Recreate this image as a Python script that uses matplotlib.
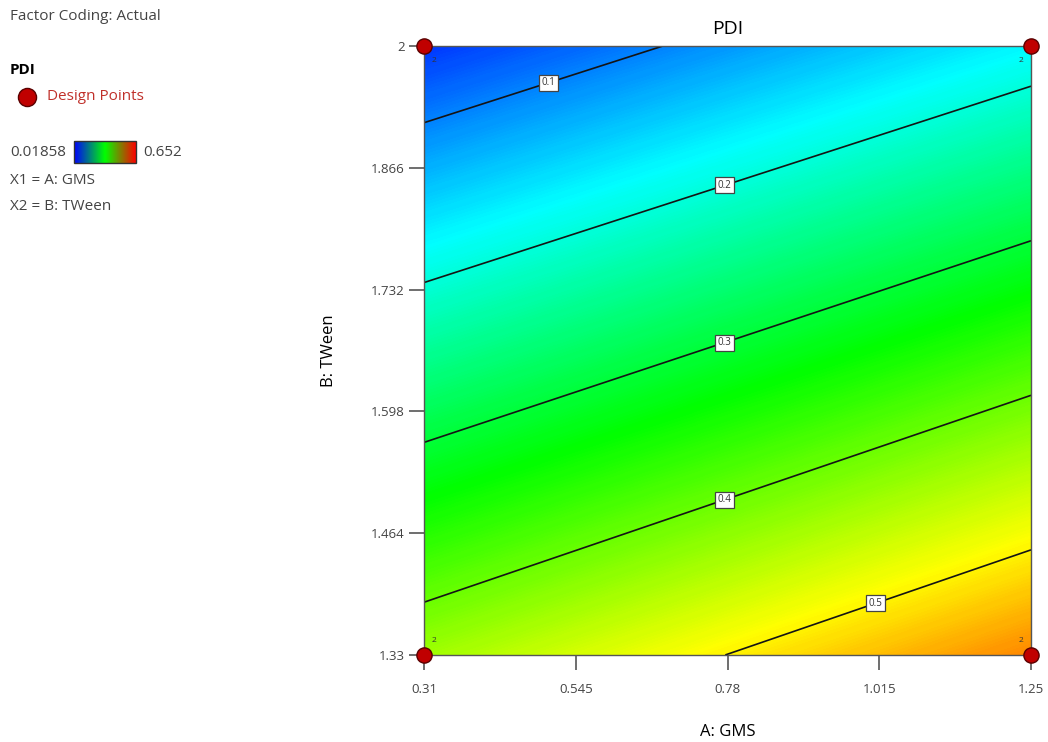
import numpy as np
import matplotlib.pyplot as plt
from matplotlib.colors import LinearSegmentedColormap
from matplotlib.patches import Rectangle

plt.rcParams["font.family"] = ["Open Sans", "DejaVu Sans"]

# factor ranges (actual coding)
gms = [0.31, 1.25]
tween = [1.33, 2.0]
# predicted PDI at the four corners of the design space
pdi_corners = [[0.433, 0.568],   # B = 1.33 (A = 0.31, 1.25)
               [0.052, 0.174]]   # B = 2.00
pdi_min, pdi_max = 0.01858, 0.652
levels = [0.1, 0.2, 0.3, 0.4, 0.5]
xticks = [0.31, 0.545, 0.78, 1.015, 1.25]
yticks = [1.33, 1.464, 1.598, 1.732, 1.866, 2]
design_a = [0.31, 1.25, 0.31, 1.25]
design_b = [1.33, 1.33, 2.0, 2.0]
design_n = ["2", "2", "2", "2"]

cmap = LinearSegmentedColormap.from_list(
    "de", ["#0000ff", "#00ffff", "#00ff00", "#ffff00", "#ff0000"])
legend_cmap = LinearSegmentedColormap.from_list(
    "de_leg", ["#0000ff", "#00ff00", "#ff0000"])

fig = plt.figure(figsize=(10.48, 7.42), dpi=100)
ax = fig.add_axes([0.4046, 0.1173, 0.5792, 0.8207])

A, B = np.meshgrid(gms, tween)
Z = np.array(pdi_corners)
fill_levels = np.linspace(pdi_min, pdi_max, 300)
cf = ax.contourf(A, B, Z, levels=fill_levels, cmap=cmap, vmin=pdi_min,
                 vmax=pdi_max, antialiased=False)
cs = ax.contour(A, B, Z, levels=levels, colors="#141414", linewidths=1.2)
lab_pos = [(0.51, 1.945), (0.78, 1.836), (0.78, 1.663), (0.78, 1.491),
           (1.015, 1.376)]
texts = ax.clabel(cs, levels, fmt="%.1f", fontsize=7, inline=False,
                  manual=lab_pos)
for t in texts:
    t.set_bbox(dict(facecolor="white", edgecolor="#444444", pad=1.8,
                    linewidth=0.9))
    t.set_rotation(0)
    t.set_color("#333333")

ax.scatter(design_a, design_b, s=120, color="#c00000", edgecolor="#5a0000",
           linewidth=1, zorder=5, clip_on=False)
for a, b, n in zip(design_a, design_b, design_n):
    dx = 0.012 if a == gms[0] else -0.012
    dy = -0.012 if b == tween[1] else 0.012
    ax.text(a + dx, b + dy, n, fontsize=6, color="#333333",
            ha="left" if dx > 0 else "right",
            va="top" if dy < 0 else "bottom", zorder=6)

ax.set_xlim(gms)
ax.set_ylim(tween)
ax.set_xticks(xticks)
ax.set_xticklabels(["0.31", "0.545", "0.78", "1.015", "1.25"])
ax.set_yticks(yticks)
ax.set_yticklabels(["1.33", "1.464", "1.598", "1.732", "1.866", "2"])
ax.tick_params(length=11, width=1.2, color="#555555", labelsize=9.5,
               labelcolor="#444444")
ax.tick_params(axis="x", pad=9)
ax.tick_params(axis="y", pad=3)
for s in ax.spines.values():
    s.set_color("#555555")
    s.set_linewidth(1.0)

ax.set_title("PDI", fontsize=14, pad=9)
ax.set_xlabel("A: GMS", fontsize=12, labelpad=20)
ax.set_ylabel("B: TWeen", fontsize=12, labelpad=24)

# legend block on the left, laid out in pixel coordinates
lax = fig.add_axes([0, 0, 1, 1], facecolor="none")
lax.set_xlim(0, 1048)
lax.set_ylim(742, 0)
lax.axis("off")
lax.text(10, 17, "Factor Coding: Actual", fontsize=11, color="#444444",
         va="center")
lax.text(10, 70, "PDI", fontsize=11, fontweight="bold", va="center")
lax.scatter([27], [97], s=170, color="#c00000", edgecolor="#5a0000",
            linewidth=1)
lax.text(47, 97, "Design Points", fontsize=11, color="#c0302a", va="center")
lax.text(10, 152, "0.01858", fontsize=11, color="#444444", va="center")
grad = np.linspace(0, 1, 256).reshape(1, -1)
lax.imshow(grad, cmap=legend_cmap, extent=[74, 136, 163, 141], aspect="auto")
lax.add_patch(Rectangle((74, 141), 62, 22, fill=False, edgecolor="#333333",
                        linewidth=1))
lax.text(143, 152, "0.652", fontsize=11, color="#444444", va="center")
lax.text(10, 180, "X1 = A: GMS", fontsize=11, color="#444444", va="center")
lax.text(10, 207, "X2 = B: TWeen", fontsize=11, color="#444444", va="center")

fig.savefig("out.png", dpi=100)
